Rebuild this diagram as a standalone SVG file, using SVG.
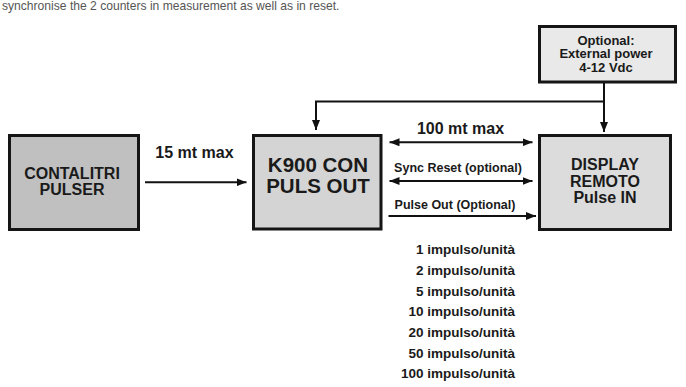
<svg xmlns="http://www.w3.org/2000/svg" width="686" height="387" viewBox="0 0 686 387">
<defs>
<marker id="ah" viewBox="0 0 10 8" refX="10" refY="4" markerWidth="10" markerHeight="8" markerUnits="userSpaceOnUse" orient="auto-start-reverse">
<path d="M0,0 L10,4 L0,8 Z" fill="#111"/>
</marker>
</defs>
<style>
.box{stroke:#151515;stroke-width:3}
.t{font-family:"Liberation Sans",Arial,sans-serif;font-weight:bold;fill:#1a1a1a;text-anchor:middle}
.c{fill:none;stroke:#111;stroke-width:2}
.lst{font-family:"Liberation Sans",Arial,sans-serif;font-weight:bold;fill:#1a1a1a;font-size:13.5px;text-anchor:end}
</style>
<rect width="686" height="387" fill="#fff"/>
<text x="2" y="10" font-family="'Liberation Sans',Arial,sans-serif" font-size="12.1" fill="#555">synchronise the 2 counters in measurement as well as in reset.</text>
<g id="optional">
<rect class="box" x="539.5" y="26.5" width="136" height="55.5" fill="#e9e9e9"/>
<text class="t" x="606" y="44.5" font-size="13">Optional:</text>
<text class="t" x="606" y="58" font-size="13">External power</text>
<text class="t" x="606" y="71.5" font-size="13">4-12 Vdc</text>
</g>
<g id="contalitri">
<rect class="box" x="9.5" y="135.5" width="129" height="94" fill="#c0c0c0"/>
<text class="t" x="72" y="179" font-size="16">CONTALITRI</text>
<text class="t" x="72" y="195" font-size="16">PULSER</text>
</g>
<g id="k900">
<rect class="box" x="253.5" y="135.5" width="127.5" height="93.5" fill="#d4d4d4"/>
<text class="t" x="318" y="172" font-size="20.5">K900 CON</text>
<text class="t" x="318" y="193" font-size="20.5">PULS OUT</text>
</g>
<g id="display">
<rect class="box" x="539.5" y="135.5" width="131" height="94" fill="#dcdcdc"/>
<text class="t" x="605" y="169.5" font-size="16">DISPLAY</text>
<text class="t" x="605" y="186.5" font-size="16">REMOTO</text>
<text class="t" x="605" y="203" font-size="16">Pulse IN</text>
</g>
<g id="connectors">
<path class="c" d="M145,182.3 H246.5" marker-end="url(#ah)"/>
<path class="c" d="M604,83 V132" marker-end="url(#ah)"/>
<path class="c" d="M604,101.5 H316 V130" marker-end="url(#ah)"/>
<path class="c" d="M389.5,142.3 H532.5" marker-start="url(#ah)" marker-end="url(#ah)"/>
<path class="c" d="M389.5,181 H532.5" marker-start="url(#ah)" marker-end="url(#ah)"/>
<path class="c" d="M388.5,216 H536" marker-end="url(#ah)"/>
</g>
<g id="labels">
<text class="t" x="194.5" y="158" font-size="16">15 mt max</text>
<text class="t" x="460.5" y="134" font-size="16">100 mt max</text>
<text class="t" x="458" y="172.3" font-size="12.5">Sync Reset (optional)</text>
<text class="t" x="455" y="209" font-size="12.5">Pulse Out (Optional)</text>
</g>
<g id="list">
<text class="lst" x="515" y="254">1 impulso/unità</text>
<text class="lst" x="515" y="275">2 impulso/unità</text>
<text class="lst" x="515" y="295.5">5 impulso/unità</text>
<text class="lst" x="515" y="316">10 impulso/unità</text>
<text class="lst" x="515" y="336.8">20 impulso/unità</text>
<text class="lst" x="515" y="357.5">50 impulso/unità</text>
<text class="lst" x="515" y="378.2">100 impulso/unità</text>
</g>
</svg>
